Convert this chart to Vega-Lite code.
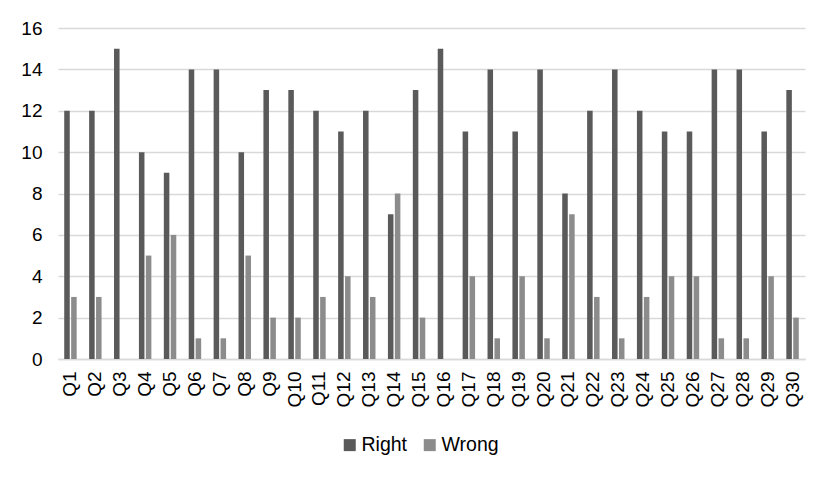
{
  "$schema": "https://vega.github.io/schema/vega-lite/v6.json",
  "width": 747,
  "height": 331,
  "autosize": {"type": "none"},
  "padding": {"left": 58, "top": 28, "right": 28, "bottom": 119},
  "background": "white",
  "config": {
    "view": {"stroke": null},
    "font": "Liberation Sans"
  },
  "data": {
    "values": [
      {"q": "Q1", "s": "Right", "v": 12}, {"q": "Q1", "s": "Wrong", "v": 3},
      {"q": "Q2", "s": "Right", "v": 12}, {"q": "Q2", "s": "Wrong", "v": 3},
      {"q": "Q3", "s": "Right", "v": 15}, {"q": "Q3", "s": "Wrong", "v": 0},
      {"q": "Q4", "s": "Right", "v": 10}, {"q": "Q4", "s": "Wrong", "v": 5},
      {"q": "Q5", "s": "Right", "v": 9}, {"q": "Q5", "s": "Wrong", "v": 6},
      {"q": "Q6", "s": "Right", "v": 14}, {"q": "Q6", "s": "Wrong", "v": 1},
      {"q": "Q7", "s": "Right", "v": 14}, {"q": "Q7", "s": "Wrong", "v": 1},
      {"q": "Q8", "s": "Right", "v": 10}, {"q": "Q8", "s": "Wrong", "v": 5},
      {"q": "Q9", "s": "Right", "v": 13}, {"q": "Q9", "s": "Wrong", "v": 2},
      {"q": "Q10", "s": "Right", "v": 13}, {"q": "Q10", "s": "Wrong", "v": 2},
      {"q": "Q11", "s": "Right", "v": 12}, {"q": "Q11", "s": "Wrong", "v": 3},
      {"q": "Q12", "s": "Right", "v": 11}, {"q": "Q12", "s": "Wrong", "v": 4},
      {"q": "Q13", "s": "Right", "v": 12}, {"q": "Q13", "s": "Wrong", "v": 3},
      {"q": "Q14", "s": "Right", "v": 7}, {"q": "Q14", "s": "Wrong", "v": 8},
      {"q": "Q15", "s": "Right", "v": 13}, {"q": "Q15", "s": "Wrong", "v": 2},
      {"q": "Q16", "s": "Right", "v": 15}, {"q": "Q16", "s": "Wrong", "v": 0},
      {"q": "Q17", "s": "Right", "v": 11}, {"q": "Q17", "s": "Wrong", "v": 4},
      {"q": "Q18", "s": "Right", "v": 14}, {"q": "Q18", "s": "Wrong", "v": 1},
      {"q": "Q19", "s": "Right", "v": 11}, {"q": "Q19", "s": "Wrong", "v": 4},
      {"q": "Q20", "s": "Right", "v": 14}, {"q": "Q20", "s": "Wrong", "v": 1},
      {"q": "Q21", "s": "Right", "v": 8}, {"q": "Q21", "s": "Wrong", "v": 7},
      {"q": "Q22", "s": "Right", "v": 12}, {"q": "Q22", "s": "Wrong", "v": 3},
      {"q": "Q23", "s": "Right", "v": 14}, {"q": "Q23", "s": "Wrong", "v": 1},
      {"q": "Q24", "s": "Right", "v": 12}, {"q": "Q24", "s": "Wrong", "v": 3},
      {"q": "Q25", "s": "Right", "v": 11}, {"q": "Q25", "s": "Wrong", "v": 4},
      {"q": "Q26", "s": "Right", "v": 11}, {"q": "Q26", "s": "Wrong", "v": 4},
      {"q": "Q27", "s": "Right", "v": 14}, {"q": "Q27", "s": "Wrong", "v": 1},
      {"q": "Q28", "s": "Right", "v": 14}, {"q": "Q28", "s": "Wrong", "v": 1},
      {"q": "Q29", "s": "Right", "v": 11}, {"q": "Q29", "s": "Wrong", "v": 4},
      {"q": "Q30", "s": "Right", "v": 13}, {"q": "Q30", "s": "Wrong", "v": 2}
    ]
  },
  "mark": {"type": "bar"},
  "encoding": {
    "x": {
      "field": "q", "type": "nominal", "sort": null,
      "scale": {"paddingInner": 0.5, "paddingOuter": 0.25},
      "axis": {
        "title": null, "labelAngle": -90, "labelAlign": "right", "labelBaseline": "middle",
        "labelFontSize": 19, "labelColor": "#000000", "labelPadding": 12,
        "labelOverlap": false, "ticks": false, "domainColor": "#d9d9d9", "domainWidth": 1.5
      }
    },
    "xOffset": {
      "field": "s", "type": "nominal",
      "scale": {"paddingInner": 0.2, "paddingOuter": 0}
    },
    "y": {
      "field": "v", "type": "quantitative",
      "scale": {"domain": [0, 16]},
      "axis": {
        "title": null, "values": [0, 2, 4, 6, 8, 10, 12, 14, 16],
        "labelFontSize": 19, "labelColor": "#000000", "labelPadding": 16,
        "labelOverlap": false, "ticks": false, "domain": false,
        "gridColor": "#d9d9d9", "gridWidth": 1.5
      }
    },
    "color": {
      "field": "s", "type": "nominal",
      "scale": {"domain": ["Right", "Wrong"], "range": ["#5a5a5a", "#8c8c8c"]},
      "legend": {
        "title": null, "orient": "none", "direction": "horizontal",
        "legendX": 282, "legendY": 407,
        "symbolType": "square", "symbolSize": 144, "symbolStrokeWidth": 0,
        "labelFontSize": 19.5, "labelColor": "#000000", "labelOffset": 2,
        "columnPadding": 12
      }
    }
  }
}
